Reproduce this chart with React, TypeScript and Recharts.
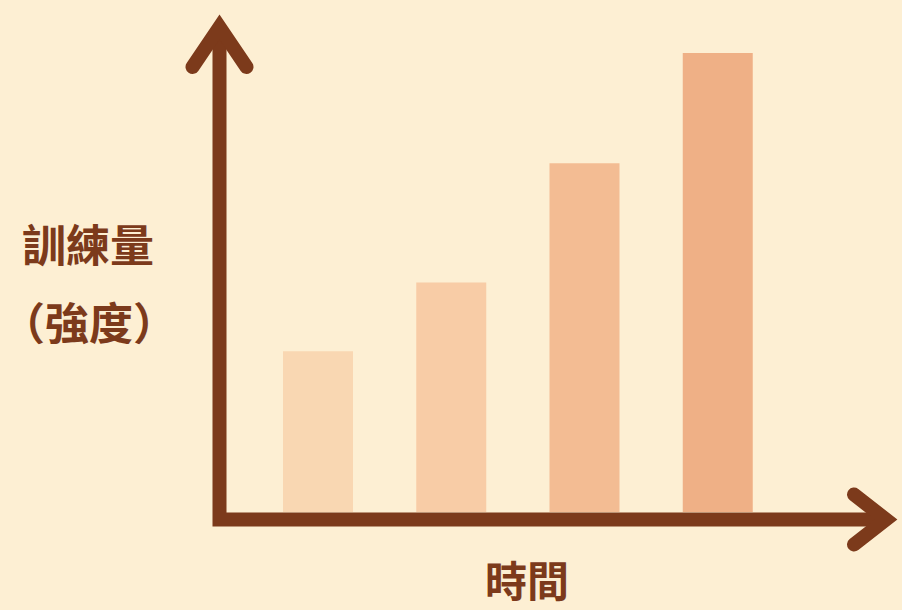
import React from "react";
import { BarChart, Bar, XAxis, YAxis, Cell } from "recharts";

// 4 training periods, load grows each step
const periods = ["1", "2", "3", "4"];
const trainingLoad = [35, 50, 76, 100];

const BAR_COLORS = ["#F9D7B2", "#F8CCA6", "#F3BC93", "#EFB086"];
const BG = "#FDEFD3";
const INK = "#7C3A1B";
const FONT = '"Noto Sans CJK TC", "Noto Sans CJK JP", sans-serif';

const W = 902;
const H = 610;
const margin = { top: 53, right: 118, bottom: 98, left: 251 };

const data = periods.map((p, i) => ({ period: p, load: trainingLoad[i] }));

function AxisArrows() {
  const plotLeft = margin.left;
  const plotBottom = H - margin.bottom;
  const ax = plotLeft - 31.5;
  const ay = plotBottom + 7.5;
  const yTip = 27;
  const xTip = 886;

  return (
    <svg
      width={W}
      height={H}
      style={{ position: "absolute", left: 0, top: 0, pointerEvents: "none" }}
    >
      <path
        d={`M ${ax} ${yTip} L ${ax} ${ay} L ${xTip} ${ay}`}
        fill="none"
        stroke={INK}
        strokeWidth={14}
        strokeLinejoin="miter"
      />
      <path
        d={`M ${ax - 27} ${yTip + 40} L ${ax} ${yTip} L ${ax + 27} ${yTip + 40}`}
        fill="none"
        stroke={INK}
        strokeWidth={14}
        strokeLinecap="round"
        strokeLinejoin="miter"
      />
      <path
        d={`M ${xTip - 32} ${ay - 25} L ${xTip} ${ay} L ${xTip - 32} ${ay + 25}`}
        fill="none"
        stroke={INK}
        strokeWidth={14}
        strokeLinecap="round"
        strokeLinejoin="miter"
      />
      <g fill={INK} fontFamily={FONT} fontWeight={700}>
        <text x={88} y={262} fontSize={44} textAnchor="middle">
          訓練量
        </text>
        <text x={89} y={340} fontSize={44} textAnchor="middle">
          （強度）
        </text>
        <text x={527} y={597} fontSize={42} textAnchor="middle">
          時間
        </text>
      </g>
    </svg>
  );
}

export default function App() {
  return (
    <div style={{ position: "relative", width: W, height: H, background: BG }}>
      <style>{`body { margin: 0; background: ${BG}; }`}</style>
      <BarChart width={W} height={H} data={data} margin={margin}>
        <XAxis dataKey="period" hide />
        <YAxis domain={[0, 100]} hide />
        <Bar dataKey="load" barSize={70} isAnimationActive={false}>
          {data.map((d, i) => (
            <Cell key={`bar-${d.period}`} fill={BAR_COLORS[i]} />
          ))}
        </Bar>
      </BarChart>
      <AxisArrows />
    </div>
  );
}
